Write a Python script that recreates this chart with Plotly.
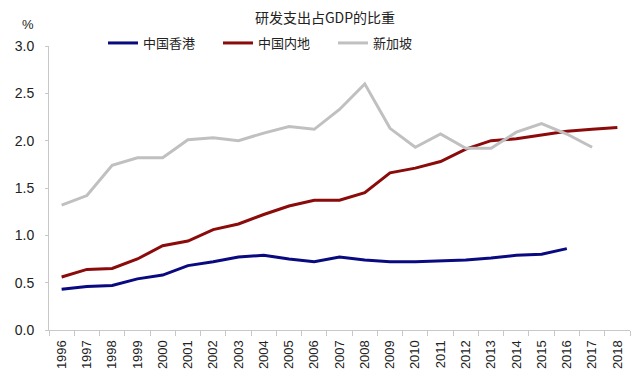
import plotly.graph_objects as go

years = [str(y) for y in range(1996, 2019)]
hk = [0.43, 0.46, 0.47, 0.54, 0.58, 0.68, 0.72, 0.77, 0.79, 0.75, 0.72, 0.77, 0.74, 0.72,
      0.72, 0.73, 0.74, 0.76, 0.79, 0.80, 0.86, None, None]
mainland = [0.56, 0.64, 0.65, 0.75, 0.89, 0.94, 1.06, 1.12, 1.22, 1.31, 1.37, 1.37, 1.45, 1.66,
            1.71, 1.78, 1.91, 2.00, 2.02, 2.06, 2.10, 2.12, 2.14]
singapore = [1.32, 1.42, 1.74, 1.82, 1.82, 2.01, 2.03, 2.00, 2.08, 2.15, 2.12, 2.33, 2.60, 2.13,
             1.93, 2.07, 1.92, 1.92, 2.09, 2.18, 2.07, 1.93, None]
names = ["中国香港", "中国内地", "新加坡"]
colors = ["#0A0A80", "#8B0A0A", "#C0C0C0"]

font = "Liberation Sans, Arial, Noto Sans CJK SC, sans-serif"
cjk = "Noto Sans CJK SC, sans-serif"

# page has an 8px body margin; figure is sized to fill the rest of the 640x385 window
W, H = 632, 377
L, R, T, B = 41, 10, 38, 55
pw, ph = W - L - R, H - T - B

fig = go.Figure()
for name, vals, c in zip(names, [hk, mainland, singapore], colors):
    fig.add_trace(go.Scatter(x=years, y=vals, mode="lines", name=name,
                             line=dict(color=c, width=3), connectgaps=False))

fig.update_layout(
    width=W, height=H,
    paper_bgcolor="white", plot_bgcolor="white",
    margin=dict(l=L, r=R, t=T, b=B, autoexpand=False),
    title=dict(text="研发支出占GDP的比重", xref="container", x=317 / W, xanchor="center",
               yref="container", y=1 - 10 / H, yanchor="middle",
               font=dict(family=cjk, size=14, color="#222")),
    legend=dict(orientation="h", xref="paper", x=(95 - L) / pw, xanchor="left",
                yref="paper", y=1 + (T - 35) / ph, yanchor="middle",
                font=dict(family=cjk, size=13, color="#222"),
                entrywidth=70, entrywidthmode="pixels", itemwidth=30,
                bgcolor="rgba(0,0,0,0)"),
    showlegend=True,
    annotations=[dict(text="%", xref="paper", yref="paper", x=(20 - L) / pw,
                      y=1 + (T - 16) / ph, xanchor="center", yanchor="middle", showarrow=False,
                      font=dict(family=font, size=13, color="#222"))],
)

fig.update_xaxes(type="category", range=[-0.5, len(years) - 0.5], automargin=False,
                 showgrid=False, showline=True, linecolor="#C8C8C8", linewidth=1,
                 ticks="outside", tickson="boundaries", ticklen=5, tickcolor="#C8C8C8",
                 tickangle=-90, ticklabelstandoff=4,
                 tickfont=dict(family=font, size=13, color="#222"))
fig.update_yaxes(range=[0, 3.0], dtick=0.5, tickformat=".1f", automargin=False, showgrid=False,
                 showline=True, linecolor="#C8C8C8", linewidth=1, ticks="outside", ticklen=3,
                 tickcolor="#C8C8C8", ticklabelstandoff=8,
                 tickfont=dict(family=font, size=14, color="#222"),
                 zeroline=False)

fig.write_html("out.html")
